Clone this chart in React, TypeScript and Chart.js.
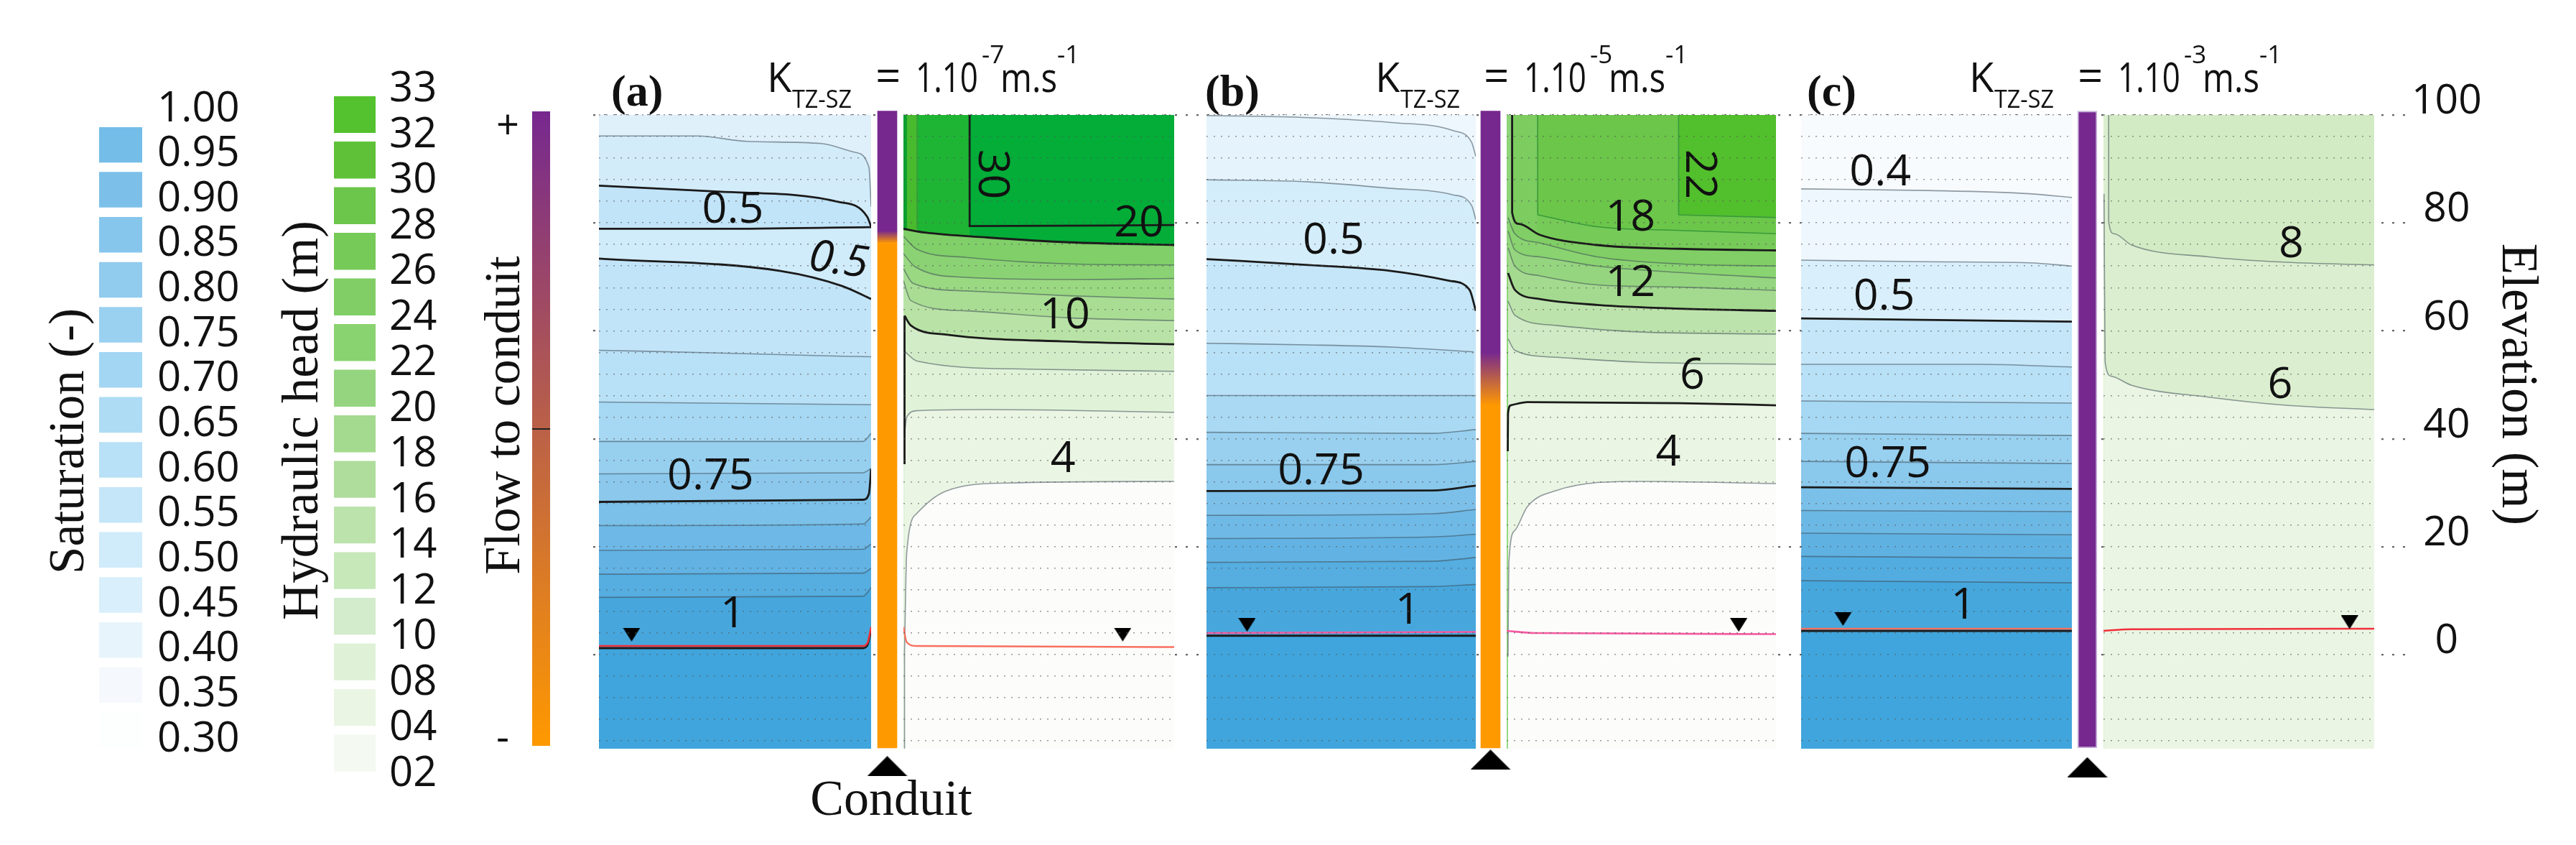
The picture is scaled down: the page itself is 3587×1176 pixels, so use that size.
import React, { useEffect, useRef } from "react";
import { Chart, registerables } from "chart.js";

Chart.register(...registerables);

type Pt = number[];

/* ---------- legend data ---------- */
const saturationLevels = [0.95, 0.9, 0.85, 0.8, 0.75, 0.7, 0.65, 0.6, 0.55, 0.5, 0.45, 0.4, 0.35, 0.3];
const saturationColors = ["#74bde8", "#7cc0ea", "#86c6ec", "#91cbee", "#9bd1f0", "#a3d6f3", "#aedcf4", "#b8e0f6", "#c4e6f8", "#d0ebfa", "#d9effb", "#e7f4fc", "#f5f9fd", "#fdfefe"];
const headLabels = ["33", "32", "30", "28", "26", "24", "22", "20", "18", "16", "14", "12", "10", "08", "04", "02"];
const headColors = ["#54c22e", "#5fc138", "#6cc64b", "#76ca58", "#80ce65", "#8ad371", "#95d57f", "#a4da8f", "#aedd9c", "#bde3ac", "#c7e8b9", "#d3eccb", "#dff2d7", "#eaf5e3", "#f4f9f1"];
const flowTicks = [-0.98, 0, 0.95];
const flowLabels = ["-", "", "+"];
const elevationTicks = [0, 20, 40, 60, 80, 100];

/* ---------- saturation contours: [distance, elevation] ---------- */
const satAContours: Pt[][] = [
  [[-106, 100], [-6, 100]],
  [[-106, 96.1], [-69.6, 96.1], [-51.5, 95.1], [-24.2, 94.7], [-12.1, 93.1], [-6.8, 90.3], [-6, 83]],
  [[-106, 86.9], [-62.1, 85.8], [-18.1, 83.9], [-7.5, 81.2], [-6, 79.3]],
  [[-106, 78.9], [-62, 78.9], [-6, 79.2]],
  [[-106, 73.4], [-39.3, 71.1], [-16.6, 68.3], [-6, 65.9]],
  [[-106, 56.4], [-62, 55.9], [-16.6, 55.3], [-6, 55.2]],
  [[-106, 46.8], [-6, 46.3]],
  [[-106, 39.5], [-9, 39.5], [-6, 41]],
  [[-106, 33.5], [-9, 33.7], [-6, 34.5]],
  [[-106, 28.3], [-9, 28.7], [-6.8, 29.8], [-6, 34.4]],
  [[-106, 23.9], [-9, 24.2], [-6, 25.5]],
  [[-106, 19.3], [-9, 19.5], [-6, 20.5]],
  [[-106, 14.9], [-9, 15.1], [-6, 16]],
  [[-106, 10.6], [-9, 10.8], [-6, 12.4]],
  [[-106, 1.2], [-9, 1.2], [-7.3, 1.8], [-6, 4.6]],
  [[-106, 1.6], [-9, 1.6], [-7.3, 2.2], [-6, 5.1]],
];
const satAFills = ["#dff0fb", "#d3ecfa", "#c2e4f8", "#d0ebfa", "#c2e4f8", "#b8e0f6", "#a6d8f3", "#97cfef", "#8bc8ec", "#7ac0e8", "#6db8e6", "#62b3e4", "#55ade0", "#47a7dd", "#40a5dc", ""];
const satAStrokes = ["none", "thin", "black", "black", "black", "thin", "thin", "thin", "thin", "black", "thin", "thin", "thin", "thin", "black", "red"];
const satALabels: (string | number)[][] = [["0.5", -56.8, 82.3], ["0.5", -18, 72.9, 8], ["0.75", -65, 33], ["1", -56.8, 7.4]];
const satAMarkers = [[-94, 3.7]];

const satBContours: Pt[][] = [
  [[-104.4, 100], [-5.4, 100]],
  [[-104.4, 99.9], [-66.8, 99.5], [-36.5, 98.6], [-13.7, 97.1], [-6.9, 94.9], [-5.4, 92.3]],
  [[-104.4, 88], [-66.8, 87.6], [-36.5, 86.4], [-13.7, 85.2], [-6.9, 83.2], [-5.4, 80.6]],
  [[-104.4, 73.3], [-66.8, 72.2], [-36.5, 71.1], [-15.3, 69.3], [-7.7, 67.6], [-5.4, 63.7]],
  [[-104.4, 57.7], [-66.8, 57.4], [-36.5, 57], [-6.2, 56.1]],
  [[-104.4, 48], [-5.4, 48]],
  [[-104.4, 41.2], [-21.3, 41], [-5.4, 41.7]],
  [[-104.4, 35.2], [-21.3, 35.2], [-5.4, 35.8]],
  [[-104.4, 30.3], [-21.3, 30.4], [-5.4, 31.3]],
  [[-104.4, 25.8], [-21.3, 26.1], [-5.4, 26.9]],
  [[-104.4, 21.5], [-21.3, 21.8], [-5.4, 22.3]],
  [[-104.4, 17.1], [-21.3, 17.3], [-5.4, 18]],
  [[-104.4, 12.4], [-21.3, 12.6], [-5.4, 13]],
  [[-104.4, 3.5], [-5.4, 3.5]],
  [[-104.4, 4], [-5.4, 4.2]],
];
const satBFills = ["#edf7fd", "#e5f3fc", "#d4edfa", "#c5e6f8", "#b8e0f6", "#a9d9f3", "#99d0ef", "#8ac8ec", "#7cc0e9", "#6fb9e6", "#62b3e3", "#55ade0", "#47a7dd", "#40a5dc", ""];
const satBStrokes = ["none", "thin", "thin", "black", "thin", "thin", "thin", "thin", "black", "thin", "thin", "thin", "thin", "black", "pink"];
const satBLabels: (string | number)[][] = [["0.5", -57.7, 76.6], ["0.75", -62.3, 33.9], ["1", -30.4, 8]];
const satBMarkers = [[-89.5, 5.5]];

const satCContours: Pt[][] = [
  [[-105, 100], [-5.5, 100]],
  [[-105, 86.3], [-58.6, 86], [-21, 85.4], [-5.5, 84.7]],
  [[-105, 73.1], [-58.6, 72.8], [-21, 72.6], [-5.5, 72]],
  [[-105, 62.3], [-5.5, 61.7]],
  [[-105, 53.8], [-39.8, 53.8], [-5.5, 53.3]],
  [[-105, 47], [-5.5, 46.6]],
  [[-105, 41], [-5.5, 40.6]],
  [[-105, 35.8], [-5.5, 35.4]],
  [[-105, 31], [-5.5, 30.7]],
  [[-105, 26.7], [-5.5, 26.5]],
  [[-105, 22.5], [-5.5, 22.2]],
  [[-105, 18.2], [-5.5, 17.9]],
  [[-105, 13.7], [-5.5, 13.3]],
  [[-105, 4.4], [-5.5, 4.4]],
  [[-105, 4.8], [-5.5, 4.8]],
];
const satCFills = ["#f8fbfe", "#eef7fd", "#d9effb", "#c4e6f8", "#b8e0f6", "#a6d8f3", "#98d0ef", "#8ac8ec", "#7ac0e9", "#6cb8e5", "#5fb1e2", "#53ace0", "#46a7dd", "#40a5dc", ""];
const satCStrokes = ["none", "thin", "thin", "black", "thin", "thin", "thin", "thin", "black", "thin", "thin", "thin", "thin", "black", "salmon"];
const satCLabels: (string | number)[][] = [["0.4", -75.9, 89.3], ["0.5", -74.5, 66.2], ["0.75", -73.2, 35.2], ["1", -45.4, 9]];
const satCMarkers = [[-89.6, 6.6]];

/* ---------- hydraulic head contours ---------- */
const headAContours: Pt[][] = [
  [[6, 100], [105.4, 100]],
  [[7.2, 100], [105.4, 100]],
  [[11, 100], [105.4, 100]],
  [[30.3, 100], [105.4, 100]],
  [[11, 100], [11.01, 79]],
  [[30.3, 100], [30.31, 79.4], [105.4, 79.6]],
  [[6, 78.9], [14, 78.2], [36.7, 77.3], [66.9, 76.4], [105.4, 75.9]],
  [[6, 77.5], [11, 75.1], [29.1, 73.6], [66.9, 72.4], [105.4, 72.2]],
  [[6, 74.3], [10.2, 71.9], [29.1, 69.9], [66.9, 69.5], [105.4, 69.7]],
  [[6, 71.5], [9.5, 68.8], [29.1, 67.4], [66.9, 66.5], [105.4, 65.9]],
  [[6, 69.3], [8.7, 65.6], [29.1, 63.7], [66.9, 62.4], [105.4, 61.9]],
  [[6.4, 62.8], [8.7, 61], [21.6, 59.3], [66.9, 58], [105.4, 57.5]],
  [[6, 56.4], [11, 54.4], [51.8, 52.9], [105.4, 52.5]],
  [[6.4, 40.8], [7.2, 44], [11, 45.2], [36.7, 45.4], [105.4, 44.9]],
  [[6.4, 62.8], [6.41, 35.3]],
  [[6.4, 0.5], [7.2, 18.8], [11, 26.2], [21.6, 30.3], [44, 31.8], [105.4, 32.1]],
  [[6.4, 0.5], [6.41, -17.4]],
  [[6, 5.1], [7.2, 2.3], [11, 1.6], [105.4, 1.4]],
];
const headAFills = ["#089f30", "#48ba2e", "#1eb534", "#03ad38", "", "", "#80cf69", "#8bd274", "#9ad882", "#aadd94", "#b9e3a6", "#d3ecc8", "#e0f2d8", "#ebf5e4", "", "#fcfdfb", "", ""];
const headAStrokes = ["none", "none", "none", "none", "dgreen", "black", "black", "thin", "thin", "thin", "thin", "black", "thin", "thin", "black", "thin", "thin", "salmon"];
const headALabels: (string | number)[][] = [["30", 38.2, 89, 90], ["20", 92.5, 79.8], ["10", 65.3, 62.8], ["4", 64.6, 36.2]];
const headAMarkers = [[86.5, 3.7]];

const headBContours: Pt[][] = [
  [[5.9, 100], [104.9, 100]],
  [[8.2, 100], [104.9, 100]],
  [[17.3, 100], [104.9, 100]],
  [[69.1, 100], [104.9, 100]],
  [[69.1, 81.5], [104.9, 81]],
  [[69.1, 100], [69.11, 81.5]],
  [[17.3, 81.5], [39.2, 79.3], [69.6, 78.6], [104.9, 78]],
  [[17.3, 100], [17.31, 81.5]],
  [[7.9, 100], [7.91, 81.9], [10.4, 79.8], [18, 77.8], [39.2, 75.9], [69.6, 75.2], [104.9, 74.9]],
  [[6.4, 81], [8.9, 78], [18, 76.3], [39.2, 73.7], [69.6, 72.4], [104.9, 72]],
  [[6.4, 78.5], [8.9, 75], [18, 73.7], [39.2, 72], [69.6, 70.8], [104.9, 69.8]],
  [[6.4, 75.4], [8.9, 72], [18, 70.2], [39.2, 68.5], [69.6, 68.1], [104.9, 67.5]],
  [[6.4, 70.7], [8.9, 67.6], [18, 65.9], [39.2, 64.8], [69.6, 64.1], [104.9, 63.7]],
  [[6.4, 65.5], [8.9, 62.9], [24.1, 61], [54.4, 59.8], [104.9, 59.4]],
  [[6.4, 58.5], [8.9, 56.4], [24.1, 55.1], [54.4, 54.2], [104.9, 53.8]],
  [[6.3, 37.7], [6.4, 44.7], [7.4, 46.2], [13.5, 46.8], [69.6, 46.6], [104.9, 46.2]],
  [[6.4, -0.4], [6.7, 17], [8.9, 23], [13.5, 27.4], [24.1, 30.4], [54.4, 32.1], [104.9, 31.7]],
  [[5.9, 4.4], [16, 4], [104.9, 3.8]],
];
const headBFills = ["#8ed478", "#7ccc60", "#6bc64a", "#52bf2d", "#6bc64a", "", "#76ca58", "", "#80ce65", "#8ad371", "#95d57f", "#a4da8f", "#bde3ac", "#cfeac4", "#dff1d6", "#ebf5e4", "#fcfdfb", ""];
const headBStrokes = ["none", "none", "none", "none", "dgreen", "dgreen", "dgreen", "dgreen", "black", "thin", "thin", "thin", "black", "thin", "thin", "black", "thin", "pink"];
const headBLabels: (string | number)[][] = [["22", 76.4, 89, 90], ["18", 51.4, 80.9], ["12", 51.4, 68.8], ["6", 74.1, 51.6], ["4", 65.3, 37.3]];
const headBMarkers = [[91.2, 5.5]];

const headCContours: Pt[][] = [
  [[6.1, 100], [105, 100]],
  [[8, 100], [105, 100]],
  [[8, 100], [8.01, 80.2], [9.9, 78], [16.4, 75.9], [44.6, 73.7], [72.8, 72.7], [105, 72.2]],
  [[6.3, 85.4], [6.7, 54.2], [8.9, 51.6], [16.4, 49.9], [44.6, 47.7], [72.8, 46.2], [105, 45.4]],
  [[6.1, 4.4], [16.4, 4.7], [105, 4.8]],
];
const headCFills = ["#dbefd0", "#d3ebc4", "#dbefd0", "#ebf5e4", ""];
const headCStrokes = ["none", "none", "thin", "thin", "red"];
const headCLabels: (string | number)[][] = [["8", 74.7, 76], ["6", 70.6, 49.9]];
const headCMarkers = [[96, 6]];

/* ---------- conduit: [bottom, top] of flow-to-conduit stretches ---------- */
const conduitAStops = [78.4, 76.1];
const conduitBStops = [55.9, 46];
const conduitCStops = [-17.44, -17.44];
const conduitTriangleElev = [-20.8, -19.6, -21];

/* ---------- text ---------- */
const panelTags = ["(a)", "(b)", "(c)"];
const panelExponents = ["-7", "-5", "-3"];

const ELEV_MAX = 100;
const ELEV_MIN = -17.44;
const PURPLE = "#76288f";
const ORANGE = "#ff9900";

const STROKES: Record<string, [string, number]> = {
  none: ["rgba(0,0,0,0)", 0],
  thin: ["rgba(60,75,85,0.55)", 1.6],
  black: ["#1b1b1b", 2.8],
  red: ["#f0303a", 2.6],
  salmon: ["#f8705f", 2.4],
  pink: ["#f55aa0", 2.6],
  dgreen: ["#3a9a3a", 1.6],
};

function triangleImage(w: number, h: number, down: boolean): HTMLCanvasElement {
  const c = document.createElement("canvas");
  c.width = w;
  c.height = h;
  const g = c.getContext("2d")!;
  g.fillStyle = "#000";
  g.beginPath();
  if (down) {
    g.moveTo(0, 0);
    g.lineTo(w, 0);
    g.lineTo(w / 2, h);
  } else {
    g.moveTo(0, h);
    g.lineTo(w, h);
    g.lineTo(w / 2, 0);
  }
  g.closePath();
  g.fill();
  return c;
}

function labelPlugin(labels: (string | number)[][]) {
  return {
    id: "contourLabels",
    afterDatasetsDraw(chart: any) {
      const { ctx, scales } = chart;
      for (const [text, x, y, rot] of labels) {
        ctx.save();
        ctx.translate(scales.x.getPixelForValue(x), scales.y.getPixelForValue(y));
        if (rot) ctx.rotate(((rot as number) * Math.PI) / 180);
        ctx.font = `${rot === 8 ? "italic " : ""}61px "Open Sans"`;
        ctx.fillStyle = "#111";
        ctx.textAlign = "center";
        ctx.textBaseline = "middle";
        ctx.fillText(String(text), 0, 0);
        ctx.restore();
      }
    },
  };
}

const basePlugins = { legend: { display: false }, tooltip: { enabled: false }, title: { display: false } };

function sideConfig(contours: Pt[][], fills: string[], strokes: string[], labels: (string | number)[][], markers: number[][]) {
  const xs = contours.flat().map((p) => p[0]);
  const datasets: any[] = contours.map((pts, i) => ({
    type: "line",
    data: pts.map(([x, y]) => ({ x, y })),
    borderColor: STROKES[strokes[i]][0],
    borderWidth: STROKES[strokes[i]][1],
    backgroundColor: fills[i] || "transparent",
    fill: fills[i] ? "start" : false,
    pointRadius: 0,
    cubicInterpolationMode: "monotone",
    order: -i,
  }));
  datasets.push({
    type: "line",
    data: markers.map(([x, y]) => ({ x, y })),
    showLine: false,
    pointStyle: triangleImage(24, 19, true),
    pointRadius: 12,
    order: -1000,
  });
  return {
    type: "line",
    data: { datasets },
    plugins: [labelPlugin(labels)],
    options: {
      animation: false,
      responsive: false,
      devicePixelRatio: 1,
      events: [],
      layout: { autoPadding: false, padding: { top: 10, bottom: 58, left: 0, right: 0 } },
      plugins: basePlugins,
      scales: {
        x: { type: "linear", display: false, min: Math.min(...xs), max: Math.max(...xs) },
        y: {
          type: "linear",
          min: ELEV_MIN,
          max: ELEV_MAX,
          ticks: { display: false, stepSize: 4, includeBounds: false },
          border: { display: false, dash: [2, 8] },
          grid: { z: 1, color: "rgba(85,85,85,0.6)", lineWidth: 1.6, drawTicks: false },
          afterFit: (s: any) => {
            s.width = 0;
          },
        },
      },
    },
  };
}

function conduitConfig(stops: number[], triangleElev: number, edge: string) {
  const [p, o] = stops;
  const gradient = (c: any) => {
    const y = c.chart.scales?.y;
    if (!y || !c.chart.chartArea) return PURPLE;
    const g = c.chart.ctx.createLinearGradient(0, y.getPixelForValue(p), 0, y.getPixelForValue(o));
    g.addColorStop(0, PURPLE);
    g.addColorStop(1, ORANGE);
    return g;
  };
  return {
    type: "bar",
    data: {
      datasets: [
        {
          type: "bar",
          data: [
            { x: 0, y: [p, 100.6] },
            { x: 0, y: [o, p] },
            { x: 0, y: [ELEV_MIN, o] },
          ],
          backgroundColor: (c: any) => (c.dataIndex === 0 ? PURPLE : c.dataIndex === 1 ? gradient(c) : ORANGE),
          borderColor: edge,
          borderWidth: edge === "transparent" ? 0 : 2,
          borderSkipped: false,
          barThickness: 27,
        },
        {
          type: "line",
          data: [{ x: 0, y: triangleElev }],
          showLine: false,
          pointStyle: triangleImage(56, 28, false),
          pointRadius: 30,
        },
      ],
    },
    options: {
      animation: false,
      responsive: false,
      devicePixelRatio: 1,
      events: [],
      layout: { autoPadding: false, padding: { top: 1.5, bottom: 2.25, left: 0, right: 0 } },
      plugins: basePlugins,
      scales: {
        x: { type: "linear", display: false, offset: false, min: -1, max: 1 },
        y: { type: "linear", display: false, min: -25, max: 101 },
      },
    },
  };
}

function swatchConfig(
  rows: number[][],
  colors: string[],
  thickness: number,
  yOpts: any,
  padding: any
) {
  return {
    type: "bar",
    data: {
      datasets: [
        {
          data: rows.map((r) => ({ x: 0, y: r })),
          backgroundColor: colors,
          borderWidth: 0,
          barThickness: thickness,
        },
      ],
    },
    options: {
      animation: false,
      responsive: false,
      devicePixelRatio: 1,
      events: [],
      layout: { autoPadding: false, padding },
      plugins: basePlugins,
      scales: {
        x: { type: "linear", display: false, offset: false, min: -1, max: 1 },
        y: yOpts,
      },
    },
  };
}

const saturationConfig = () =>
  swatchConfig(
    saturationLevels.map((v) => [v + 0.05 - 0.039, v + 0.05]),
    saturationColors,
    60,
    {
      type: "linear",
      position: "right",
      min: 0.3,
      max: 1,
      border: { display: false },
      grid: { display: false, drawTicks: false },
      ticks: {
        stepSize: 0.05,
        autoSkip: false,
        padding: 21,
        labelOffset: -25,
        color: "#111",
        font: { family: "Open Sans", size: 58 },
        callback: (v: number) => v.toFixed(2),
      },
      afterFit: (s: any) => {
        s.width = 150;
      },
    },
    { top: 57, bottom: 36, left: 8, right: 0 }
  );

const headLegendConfig = () =>
  swatchConfig(
    headColors.map((_, i) => [14 - i + 0.2, 15 - i]),
    headColors,
    58,
    {
      type: "linear",
      position: "right",
      min: 0,
      max: 15,
      border: { display: false },
      grid: { display: false, drawTicks: false },
      ticks: {
        stepSize: 1,
        autoSkip: false,
        padding: 19,
        labelOffset: -9,
        color: "#111",
        font: { family: "Open Sans", size: 58 },
        callback: (v: number) => headLabels[15 - Math.round(v)],
      },
      afterFit: (s: any) => {
        s.width = 100;
      },
    },
    { top: 49, bottom: 41, left: 15, right: 0 }
  );

const flowConfig = () => ({
  type: "bar",
  data: {
    datasets: [
      {
        data: [{ x: 0, y: [-1, 1] }],
        backgroundColor: (c: any) => {
          const a = c.chart.chartArea;
          if (!a) return PURPLE;
          const g = c.chart.ctx.createLinearGradient(0, a.top, 0, a.bottom);
          g.addColorStop(0, PURPLE);
          g.addColorStop(1, ORANGE);
          return g;
        },
        borderWidth: 0,
        barThickness: 25,
      },
    ],
  },
  options: {
    animation: false,
    responsive: false,
    devicePixelRatio: 1,
    events: [],
    layout: { autoPadding: false, padding: { top: 35, bottom: 42, left: 11, right: 14 } },
    plugins: basePlugins,
    scales: {
      x: { type: "linear", display: false, offset: false, min: -1, max: 1 },
      y: {
        type: "linear",
        position: "left",
        min: -1,
        max: 1,
        border: { display: false },
        afterBuildTicks: (s: any) => {
          s.ticks = flowTicks.map((value) => ({ value }));
        },
        grid: {
          z: 1,
          drawTicks: false,
          lineWidth: 2,
          color: (c: any) => (c.tick && c.tick.value === 0 ? "#222" : "transparent"),
        },
        ticks: {
          autoSkip: false,
          crossAlign: "far",
          padding: 0,
          color: "#111",
          font: { family: "Open Sans", size: 56 },
          callback: (v: number) => flowLabels[flowTicks.indexOf(v)],
        },
        afterFit: (s: any) => {
          s.width = 50;
        },
      },
    },
  },
});

const axisConfig = () => ({
  type: "line",
  data: { datasets: [{ data: elevationTicks.map((y) => ({ x: 0, y })), showLine: false, pointRadius: 0 }] },
  options: {
    animation: false,
    responsive: false,
    devicePixelRatio: 1,
    events: [],
    layout: { autoPadding: false, padding: { top: 60, bottom: 58, left: 0, right: 0 } },
    plugins: basePlugins,
    scales: {
      x: { type: "linear", display: false, min: 0, max: 1 },
      y: {
        type: "linear",
        position: "right",
        min: ELEV_MIN,
        max: ELEV_MAX,
        border: { display: false, dash: [3, 12] },
        grid: { color: "#666", lineWidth: 2.2, drawTicks: false },
        ticks: {
          stepSize: 20,
          includeBounds: false,
          autoSkip: false,
          crossAlign: "center",
          padding: 6,
          labelOffset: -18,
          color: "#111",
          font: { family: "Open Sans", size: 57 },
        },
        afterFit: (s: any) => {
          s.width = 130;
        },
      },
    },
  },
});

function ChartCanvas({ left, top, width, height, make }: { left: number; top: number; width: number; height: number; make: () => any }) {
  const ref = useRef<HTMLCanvasElement>(null);
  useEffect(() => {
    const chart = new Chart(ref.current!, make());
    return () => chart.destroy();
  }, []);
  return <canvas ref={ref} width={width} height={height} style={{ position: "absolute", left, top, width, height, display: "block" }} />;
}

const SANS = '"Open Sans", sans-serif';
const SERIF = '"Liberation Serif", serif';

function Header({ dx, tag, tagX, exp }: { dx: number; tag: string; tagX: number; exp: string }) {
  return (
    <g fill="#111" fontFamily={SANS}>
      <text x={tagX} y={147} fontFamily={SERIF} fontWeight="bold" fontSize={62}>{tag}</text>
      <text x={1068 + dx} y={128} fontSize={56}>K</text>
      <text x={1103 + dx} y={150} fontSize={35} textLength={83} lengthAdjust="spacingAndGlyphs">TZ-SZ</text>
      <text x={1219 + dx} y={128} fontSize={62}>=</text>
      <text x={1275 + dx} y={128} fontSize={56} textLength={87} lengthAdjust="spacingAndGlyphs">1.10</text>
      <text x={1367 + dx} y={88} fontSize={35}>{exp}</text>
      <text x={1393 + dx} y={128} fontSize={56} textLength={79} lengthAdjust="spacingAndGlyphs">m.s</text>
      <text x={1472 + dx} y={88} fontSize={35}>-1</text>
    </g>
  );
}

function VerticalTitle({ x, y, angle, size, text }: { x: number; y: number; angle: number; size: number; text: string }) {
  return (
    <text transform={`translate(${x} ${y}) rotate(${angle})`} textAnchor="middle" fontFamily={SERIF} fontSize={size} fill="#111">
      {text}
    </text>
  );
}

export default function App() {
  return (
    <div style={{ position: "absolute", left: 0, top: 0, width: 3587, height: 1176, background: "#fff", overflow: "hidden" }}>
      <ChartCanvas left={826} top={100} width={2656} height={1000} make={axisConfig} />
      <ChartCanvas left={130} top={120} width={218} height={990} make={saturationConfig} />
      <ChartCanvas left={450} top={80} width={173} height={1060} make={headLegendConfig} />
      <ChartCanvas left={680} top={120} width={100} height={960} make={flowConfig} />

      <ChartCanvas left={834} top={150} width={379} height={950} make={() => sideConfig(satAContours, satAFills, satAStrokes, satALabels, satAMarkers)} />
      <ChartCanvas left={1258} top={150} width={377} height={950} make={() => sideConfig(headAContours, headAFills, headAStrokes, headALabels, headAMarkers)} />
      <ChartCanvas left={1680} top={150} width={375} height={950} make={() => sideConfig(satBContours, satBFills, satBStrokes, satBLabels, satBMarkers)} />
      <ChartCanvas left={2098} top={150} width={375} height={950} make={() => sideConfig(headBContours, headBFills, headBStrokes, headBLabels, headBMarkers)} />
      <ChartCanvas left={2508} top={150} width={377} height={950} make={() => sideConfig(satCContours, satCFills, satCStrokes, satCLabels, satCMarkers)} />
      <ChartCanvas left={2929} top={150} width={377} height={950} make={() => sideConfig(headCContours, headCFills, headCStrokes, headCLabels, headCMarkers)} />

      <ChartCanvas left={1195} top={150} width={81} height={950} make={() => conduitConfig(conduitAStops, conduitTriangleElev[0], "transparent")} />
      <ChartCanvas left={2035} top={150} width={81} height={950} make={() => conduitConfig(conduitBStops, conduitTriangleElev[1], "transparent")} />
      <ChartCanvas left={2866} top={150} width={81} height={950} make={() => conduitConfig(conduitCStops, conduitTriangleElev[2], "#c6b2d8")} />

      <svg width={3587} height={1176} style={{ position: "absolute", left: 0, top: 0, pointerEvents: "none" }}>
        <Header dx={0} tag={panelTags[0]} tagX={851} exp={panelExponents[0]} />
        <Header dx={847} tag={panelTags[1]} tagX={1678} exp={panelExponents[1]} />
        <Header dx={1674} tag={panelTags[2]} tagX={2516} exp={panelExponents[2]} />
        <VerticalTitle x={116} y={614} angle={-90} size={69} text="Saturation (-)" />
        <VerticalTitle x={442} y={585} angle={-90} size={71} text="Hydraulic head (m)" />
        <VerticalTitle x={723} y={578} angle={-90} size={70} text="Flow to conduit" />
        <VerticalTitle x={3485} y={535} angle={90} size={71} text="Elevation (m)" />
        <text x={1241} y={1134} textAnchor="middle" fontFamily={SERIF} fontSize={70} fill="#111">Conduit</text>
      </svg>
    </div>
  );
}
